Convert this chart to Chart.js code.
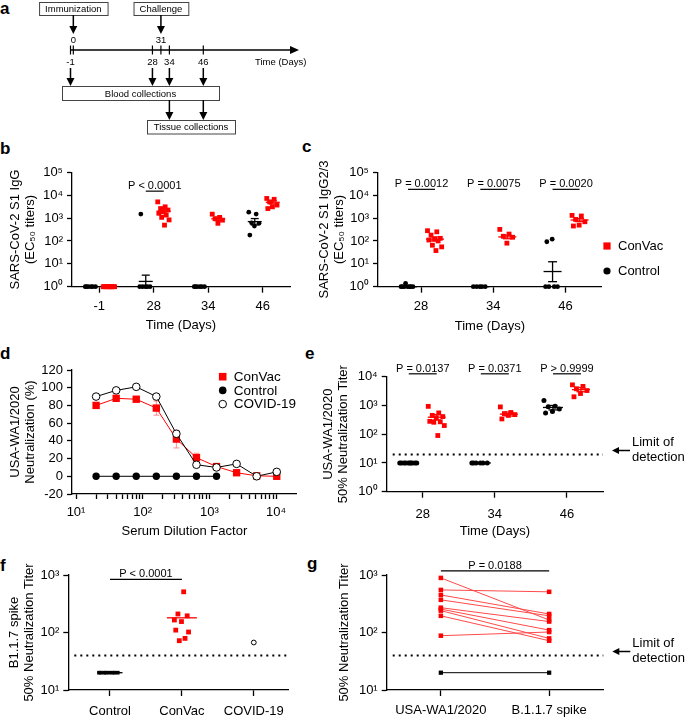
<!DOCTYPE html>
<html>
<head>
<meta charset="utf-8">
<title>ConVac figure</title>
<script src="https://cdn.jsdelivr.net/npm/chart.js@4.4.1/dist/chart.umd.min.js"></script>
<style>
  html, body { margin: 0; padding: 0; background: #fff; }
  body { position: relative; width: 685px; height: 719px; overflow: hidden; font-family: Arial, "Liberation Sans", sans-serif; }
  canvas { position: absolute; }
  .tag { position: absolute; font-weight: bold; font-size: 17px; line-height: 17px; }
</style>
</head>
<body>
<div class="tag" style="left:0px;top:0px">a</div>
<div class="tag" style="left:0px;top:140px">b</div>
<div class="tag" style="left:302px;top:138px">c</div>
<div class="tag" style="left:0px;top:345px">d</div>
<div class="tag" style="left:305px;top:345px">e</div>
<div class="tag" style="left:0px;top:557px">f</div>
<div class="tag" style="left:307px;top:555px">g</div>
<script>
// ---- data: a (study timeline) ----
const timelineDays = [-1, 0, 28, 31, 34, 46];
const dosingDays = [0, 31];
const dosingNames = ['Immunization', 'Challenge'];
const bloodDays = [-1, 28, 34, 46];
const tissueDays = [34, 46];

// ---- data: b (S1 IgG EC50) ----
const igDays = ['-1', '28', '34', '46'];
const igControl = [
  [1, 1, 1, 1, 1, 1],
  [1, 1, 1, 1, 1, 1500],
  [1, 1, 1, 1, 1, 1],
  [1800, 1500, 620, 590, 450, 180]
];
const igConVac = [
  [1, 1, 1, 1, 1, 1, 1, 1, 1, 1],
  [5100, 3100, 2600, 2240, 1860, 1620, 1350, 1070, 830, 490],
  [1480, 1070, 930, 810, 590],
  [7200, 6600, 5100, 3700, 3100, 2600]
];
const igControlMean = [1, 1.7, 1, 700];
const igControlLow = [1, 1, 1, 500];
const igControlHigh = [1, 3.2, 1, 950];
const igConVacMean = [1, 2000, 930, 4900];
const igConVacLow = [1, 1650, 780, 4100];
const igConVacHigh = [1, 2450, 1100, 5800];

// ---- data: c (S1 IgG2/3 EC50) ----
const g23Days = ['28', '34', '46'];
const g23Control = [
  [1, 1, 1, 1, 1, 1, 1, 1.4],
  [1, 1, 1, 1, 1],
  [1, 1, 1, 1, 120, 92]
];
const g23ConVac = [
  [280, 250, 180, 130, 120, 110, 100, 65, 55, 38],
  [320, 200, 160, 145, 80],
  [1310, 1230, 870, 690, 490, 450]
];
const g23ControlMean = [1, 1, 4.6];
const g23ControlLow = [1, 1, 1.66];
const g23ControlHigh = [1, 1, 12.3];
const g23ConVacMean = [120, 150, 820];
const g23ConVacLow = [100, 125, 700];
const g23ConVacHigh = [150, 180, 960];

// ---- data: d (neutralization curve) ----
const dilutions = [20, 40, 80, 160, 320, 640, 1280, 2560, 5120, 10240];
const neutConVac = [80, 88, 87, 77, 42, 21, 11, 4, 0.5, 0];
const neutConVacSem = [2, 1, 1, 8, 10, 5, 2, 1, 0.5, 0.5];
const neutControl = [0, 0, 0, 0, 0, 0, 0];
const neutCovid = [90, 97, 101, 90, 48, 13, 10, 14, 0, 5];

// ---- data: e (USA-WA1/2020 NT50) ----
const ntDays = ['28', '34', '46'];
const ntControl = [
  [10, 10, 10, 10, 10, 10, 10, 10, 10, 10],
  [10, 10, 10, 10, 10, 10],
  [1500, 930, 900, 760, 620, 550]
];
const ntConVac = [
  [930, 550, 450, 410, 370, 280, 270, 260, 200, 90],
  [890, 570, 520, 480, 450, 340],
  [5200, 4600, 3800, 3300, 2600, 2000]
];
const ntControlMean = [10, 10, 850];
const ntControlLow = [10, 10, 700];
const ntControlHigh = [10, 10, 1000];
const ntConVacMean = [390, 500, 3550];
const ntConVacLow = [310, 430, 3000];
const ntConVacHigh = [480, 590, 4200];

// ---- data: f, g (B.1.1.7 spike) ----
const variantGroups = ['Control', 'ConVac', 'COVID-19'];
const b117Control = [20, 20, 20, 20, 20, 20, 20, 20];
const b117Covid = [67];
const b117ControlMedian = 20;
const b117ConVacMedian = 180;
const pairLabels = ['USA-WA1/2020', 'B.1.1.7 spike'];
const pairWA1 = [890, 550, 450, 370, 270, 255, 240, 195, 88];
const pairB117 = [165, 510, 210, 195, 155, 110, 79, 72, 102];
const pairControl = [20, 20];
const detectionLimitE = 20;
const detectionLimitFG = 40;

// ---- layout ----
const RED = '#ff0000';
const FONT = 'Arial, "Liberation Sans", sans-serif';
const BOX = {
  a: { x: 0, y: 0, w: 320, h: 140 },
  b: { x: 0, y: 140, w: 300, h: 200 },
  c: { x: 300, y: 140, w: 385, h: 200 },
  d: { x: 0, y: 345, w: 320, h: 200 },
  e: { x: 300, y: 345, w: 385, h: 200 },
  f: { x: 0, y: 555, w: 320, h: 164 },
  g: { x: 300, y: 555, w: 385, h: 164 }
};
const AREA = {
  a: { l: 70.5, t: 0, r: 203.3, b: 140 },
  b: { l: 72, t: 172.3, r: 290, b: 286.7 },
  c: { l: 378, t: 172.3, r: 601.7, b: 286.7 },
  d: { l: 72, t: 370, r: 296.7, b: 494 },
  e: { l: 386.7, t: 376.7, r: 603, b: 491.7 },
  f: { l: 68.3, t: 575, r: 288.3, b: 690 },
  g: { l: 386.7, t: 575, r: 603.3, b: 690 }
};

Chart.defaults.font.family = FONT;
Chart.defaults.font.size = 13;
Chart.defaults.color = '#000';
Chart.defaults.animation = false;
Chart.defaults.responsive = false;
Chart.defaults.maintainAspectRatio = false;
Chart.defaults.events = [];
Chart.defaults.plugins.legend.display = false;
Chart.defaults.plugins.tooltip.enabled = false;

const SUP = { '0': '\u2070', '1': '\u00b9', '2': '\u00b2', '3': '\u00b3', '4': '\u2074', '5': '\u2075' };
const powLabel = v => '10' + String(Math.round(Math.log10(v))).split('').map(ch => SUP[ch]).join('');

function addCanvas(box) {
  const c = document.createElement('canvas');
  c.width = box.w;
  c.height = box.h;
  c.style.left = box.x + 'px';
  c.style.top = box.y + 'px';
  document.body.appendChild(c);
  return c;
}

function fitTo(key) {
  const box = BOX[key], area = AREA[key];
  return {
    padding: { left: 0, top: area.t - box.y, right: box.x + box.w - area.r, bottom: 0 },
    yW: area.l - box.x,
    xH: box.y + box.h - area.b
  };
}

const BORDER = { display: true, color: '#000', width: 1.3 };
const grid = len => ({ display: true, drawOnChartArea: false, drawTicks: true, tickLength: len, tickColor: '#000', tickWidth: 1.3, color: '#000' });
const titleCfg = (text, pad) => text
  ? { display: true, text, color: '#000', font: { size: 13, lineHeight: 1.15 }, padding: pad }
  : { display: false };

function yLog(min, max, fit, title, pad) {
  return {
    type: 'logarithmic', position: 'left', min, max, bounds: 'data',
    afterBuildTicks: s => { const t = []; for (let v = min; v <= max * 1.001; v *= 10) t.push({ value: v }); s.ticks = t; },
    afterFit: s => { s.width = fit.yW; },
    border: BORDER, grid: grid(5),
    ticks: { callback: v => powLabel(v), padding: 4, autoSkip: false, color: '#000', font: { size: 13 } },
    title: titleCfg(title, { top: pad, bottom: 0 })
  };
}

function xCat(cats, min, max, fit, title, labelPad, titlePad) {
  return {
    type: 'linear', position: 'bottom', min, max, bounds: 'data',
    afterBuildTicks: s => { s.ticks = cats.map((_, i) => ({ value: i })); },
    afterFit: s => { s.height = fit.xH; },
    border: BORDER, grid: grid(6),
    ticks: { callback: v => cats[Math.round(v)], padding: labelPad, color: '#000', font: { size: 13 }, autoSkip: false, maxRotation: 0 },
    title: titleCfg(title, { top: 0, bottom: titlePad })
  };
}

function seg(ctx, x1, y1, x2, y2) {
  ctx.beginPath(); ctx.moveTo(x1, y1); ctx.lineTo(x2, y2); ctx.stroke();
}

// ---- plugins ----
const statsPlugin = {
  id: 'stats',
  afterDatasetsDraw(chart) {
    const { ctx, scales: { x, y } } = chart;
    chart.data.datasets.forEach(ds => {
      const s = ds.stats;
      if (!s) return;
      ctx.save();
      ctx.strokeStyle = ds.borderColor;
      ctx.lineWidth = 1.3;
      s.mean.forEach((m, i) => {
        if (m == null) return;
        const cx = x.getPixelForValue(i + s.shift);
        const ym = y.getPixelForValue(m);
        seg(ctx, cx - s.half, ym, cx + s.half, ym);
        if (s.low && s.high && s.high[i] > s.low[i]) {
          const yl = y.getPixelForValue(s.low[i]);
          const yh = y.getPixelForValue(s.high[i]);
          seg(ctx, cx, yl, cx, yh);
          seg(ctx, cx - s.cap, yl, cx + s.cap, yl);
          seg(ctx, cx - s.cap, yh, cx + s.cap, yh);
        }
      });
      ctx.restore();
    });
  }
};

const errorPlugin = {
  id: 'errbars',
  beforeDatasetsDraw(chart) {
    const { ctx, scales: { x, y } } = chart;
    chart.data.datasets.forEach(ds => {
      if (!ds.errors) return;
      ctx.save();
      ctx.strokeStyle = ds.errorColor;
      ctx.lineWidth = 1;
      ds.data.forEach((p, i) => {
        const e = ds.errors[i];
        if (!e) return;
        const px = x.getPixelForValue(p.x);
        const y1 = y.getPixelForValue(p.y - e), y2 = y.getPixelForValue(p.y + e);
        seg(ctx, px, y1, px, y2);
        seg(ctx, px - 3, y1, px + 3, y1);
        seg(ctx, px - 3, y2, px + 3, y2);
      });
      ctx.restore();
    });
  }
};

const pvalPlugin = {
  id: 'pvals',
  afterDraw(chart, args, opts) {
    if (!opts.items) return;
    const { ctx, scales: { x, y } } = chart;
    ctx.save();
    ctx.strokeStyle = '#000';
    ctx.fillStyle = '#000';
    ctx.lineWidth = 1.2;
    ctx.font = '11px ' + FONT;
    ctx.textAlign = 'center';
    ctx.textBaseline = 'alphabetic';
    opts.items.forEach(it => {
      const x1 = x.getPixelForValue(it.x1), x2 = x.getPixelForValue(it.x2);
      const py = y.getPixelForValue(it.y);
      seg(ctx, x1, py, x2, py);
      ctx.fillText(it.text, (x1 + x2) / 2, py - 2);
    });
    ctx.restore();
  }
};

const lodPlugin = {
  id: 'lod',
  afterDatasetsDraw(chart, args, opts) {
    if (opts.value == null) return;
    const { ctx, chartArea: a, scales: { y } } = chart;
    const py = Math.round(y.getPixelForValue(opts.value)) + 0.5;
    ctx.save();
    ctx.strokeStyle = '#000';
    ctx.fillStyle = '#000';
    ctx.lineWidth = 2;
    ctx.setLineDash([2, 4]);
    seg(ctx, a.left + 6, py, a.right, py);
    ctx.setLineDash([]);
    if (opts.label) {
      const ay = py - 4, tip = a.right + 9, tail = a.right + 27;
      ctx.lineWidth = 1.5;
      seg(ctx, tip + 5, ay, tail, ay);
      ctx.beginPath();
      ctx.moveTo(tip, ay); ctx.lineTo(tip + 7, ay - 3.5); ctx.lineTo(tip + 7, ay + 3.5);
      ctx.closePath(); ctx.fill();
      ctx.font = '13px ' + FONT;
      ctx.textAlign = 'left';
      ctx.textBaseline = 'middle';
      ctx.fillText(opts.label[0], tail + 2, ay - 8);
      ctx.fillText(opts.label[1], tail + 2, ay + 7);
    }
    ctx.restore();
  }
};

const keyPlugin = {
  id: 'key',
  afterDraw(chart, args, opts) {
    if (!opts.items) return;
    const ctx = chart.ctx;
    ctx.save();
    ctx.font = opts.size + 'px ' + FONT;
    ctx.textBaseline = 'middle';
    ctx.textAlign = 'left';
    opts.items.forEach((di, k) => {
      const ds = chart.data.datasets[di];
      const cy = opts.y + k * opts.dy;
      const r = opts.r;
      ctx.fillStyle = ds.pointBackgroundColor;
      ctx.strokeStyle = ds.pointBorderColor;
      ctx.lineWidth = 1;
      if (ds.pointStyle === 'rect') {
        ctx.fillRect(opts.x - r, cy - r, 2 * r, 2 * r);
      } else {
        ctx.beginPath(); ctx.arc(opts.x, cy, r, 0, Math.PI * 2); ctx.fill();
        if (ds.pointBorderWidth) ctx.stroke();
      }
      ctx.fillStyle = '#000';
      ctx.fillText(ds.label, opts.x + opts.gap, cy + 0.5);
    });
    ctx.restore();
  }
};

const schemePlugin = {
  id: 'scheme',
  afterDraw(chart, args, opts) {
    if (!opts.on) return;
    const { ctx, scales: { x } } = chart;
    const X = d => x.getPixelForValue(d);
    const axisY = 50;
    const arrow = (px, y1, y2) => {
      ctx.lineWidth = 1.5;
      seg(ctx, px, y1, px, y2 - 6);
      ctx.beginPath(); ctx.moveTo(px - 4, y2 - 8); ctx.lineTo(px + 4, y2 - 8); ctx.lineTo(px, y2);
      ctx.closePath(); ctx.fill();
    };
    const box = (bx, by, bw, bh, text) => {
      ctx.lineWidth = 1;
      ctx.strokeStyle = '#444';
      ctx.strokeRect(bx + 0.5, by + 0.5, bw, bh);
      ctx.strokeStyle = '#000';
      ctx.fillText(text, bx + bw / 2, by + bh / 2 + 1);
    };
    ctx.save();
    ctx.strokeStyle = '#000';
    ctx.fillStyle = '#000';
    ctx.font = '9.5px ' + FONT;
    ctx.textAlign = 'center';
    ctx.textBaseline = 'middle';
    ctx.lineWidth = 1.4;
    seg(ctx, X(timelineDays[0]), axisY, 291, axisY);
    ctx.beginPath(); ctx.moveTo(299, axisY); ctx.lineTo(290, axisY - 4); ctx.lineTo(290, axisY + 4);
    ctx.closePath(); ctx.fill();
    timelineDays.forEach(d => {
      ctx.lineWidth = 1.2;
      seg(ctx, X(d), axisY - 4.5, X(d), axisY + 4.5);
      ctx.fillText(String(d), X(d), dosingDays.includes(d) ? 40.5 : 62);
    });
    ctx.textAlign = 'left';
    ctx.fillText('Time (Days)', 255, 62);
    ctx.textAlign = 'center';
    dosingDays.forEach((d, i) => {
      const w = ctx.measureText(dosingNames[i]).width + 12;
      box(X(d) - w / 2, 2, w, 13, dosingNames[i]);
      arrow(X(d), 15, 34);
    });
    bloodDays.forEach(d => arrow(X(d), 68, 86));
    box(62, 86, 157, 14, 'Blood collections');
    tissueDays.forEach(d => arrow(X(d), 100, 120));
    box(147, 120, 88, 13.5, 'Tissue collections');
    ctx.restore();
  }
};

Chart.register(statsPlugin, errorPlugin, pvalPlugin, lodPlugin, keyPlugin, schemePlugin);

const spreadAt = (j, n) => (n > 1 ? ((j * 0.6180339) % 1) - 0.5 : 0);

function dotPanel(key, cfg) {
  const fit = fitTo(key);
  const area = AREA[key];
  const unitPx = (area.r - area.l) / (cfg.xMax - cfg.xMin);
  const datasets = cfg.groups.map(g => ({
    label: g.label,
    data: g.values.flatMap((vals, ci) => vals.map((v, j) => ({
      x: ci + (g.offset + spreadAt(j, vals.length) * g.spread) / unitPx,
      y: v
    }))),
    showLine: false,
    clip: false,
    pointStyle: g.shape,
    pointRadius: g.radius,
    pointBackgroundColor: g.fill || g.color,
    pointBorderColor: g.color,
    pointBorderWidth: g.fill ? 1 : 0,
    borderColor: g.color,
    backgroundColor: g.color,
    stats: g.mean ? { mean: g.mean, low: g.low, high: g.high, shift: g.offset / unitPx, half: g.half, cap: g.cap } : null
  }));
  const at = ([ci, gi]) => ci + cfg.groups[gi].offset / unitPx;
  const items = (cfg.pvals || []).map(p => ({ text: p.text, y: p.y, x1: at(p.from), x2: at(p.to) }));
  return new Chart(addCanvas(BOX[key]), {
    type: 'scatter',
    data: { datasets },
    options: {
      layout: { padding: fit.padding },
      scales: {
        x: xCat(cfg.cats, cfg.xMin, cfg.xMax, fit, cfg.xTitle, cfg.xLabelPad, cfg.xTitlePad),
        y: yLog(cfg.yMin, cfg.yMax, fit, cfg.yTitle, cfg.yTitlePad)
      },
      plugins: { pvals: { items }, lod: cfg.lod || {}, key: cfg.key || {} }
    }
  });
}

// ---- a ----
new Chart(addCanvas(BOX.a), {
  type: 'scatter',
  data: { datasets: [] },
  options: {
    layout: { padding: { left: AREA.a.l, right: BOX.a.w - AREA.a.r, top: 0, bottom: 0 } },
    scales: {
      x: { type: 'linear', min: timelineDays[0], max: timelineDays[timelineDays.length - 1], display: false },
      y: { display: false }
    },
    plugins: { scheme: { on: true } }
  }
});

// ---- b ----
dotPanel('b', {
  cats: igDays, xMin: -0.5, xMax: 3.5, yMin: 1, yMax: 1e5,
  yTitle: ['SARS-CoV-2 S1 IgG', '(EC\u2085\u2080 titers)'], yTitlePad: 7.5,
  xTitle: 'Time (Days)', xTitlePad: 7.5, xLabelPad: 6,
  groups: [
    { label: 'Control', values: igControl, color: '#000', shape: 'circle', radius: 2.4, offset: -8, spread: 12,
      mean: igControlMean, low: igControlLow, high: igControlHigh, half: 7, cap: 4 },
    { label: 'ConVac', values: igConVac, color: RED, shape: 'rect', radius: 3.4, offset: 10, spread: 12,
      mean: igConVacMean, low: igConVacLow, high: igConVacHigh, half: 7, cap: 4 }
  ],
  pvals: [{ text: 'P < 0.0001', y: 1.5e4, from: [1, 0], to: [1, 1] }]
});

// ---- c ----
dotPanel('c', {
  cats: g23Days, xMin: -0.595, xMax: 2.5, yMin: 1, yMax: 1e5,
  yTitle: ['SARS-CoV-2 S1 IgG2/3', '(EC\u2085\u2080 titers)'], yTitlePad: 16.5,
  xTitle: 'Time (Days)', xTitlePad: 6.5, xLabelPad: 6,
  groups: [
    { label: 'Control', values: g23Control, color: '#000', shape: 'circle', radius: 2.4, offset: -13, spread: 14,
      mean: g23ControlMean, low: g23ControlLow, high: g23ControlHigh, half: 9, cap: 4.5 },
    { label: 'ConVac', values: g23ConVac, color: RED, shape: 'rect', radius: 3.4, offset: 14, spread: 15,
      mean: g23ConVacMean, low: g23ConVacLow, high: g23ConVacHigh, half: 9, cap: 4.5 }
  ],
  pvals: [
    { text: 'P = 0.0012', y: 1.8e4, from: [0, 0], to: [0, 1] },
    { text: 'P = 0.0075', y: 1.8e4, from: [1, 0], to: [1, 1] },
    { text: 'P = 0.0020', y: 1.8e4, from: [2, 0], to: [2, 1] }
  ],
  key: { x: 307, y: 106, dy: 25, r: 3.6, gap: 11, size: 13, items: [1, 0] }
});

// ---- d ----
{
  const fit = fitTo('d');
  const pts = vals => vals.map((v, i) => ({ x: dilutions[i], y: v }));
  new Chart(addCanvas(BOX.d), {
    type: 'line',
    data: {
      datasets: [
        { label: 'Control', data: pts(neutControl), borderColor: '#000', borderWidth: 1, clip: false,
          pointStyle: 'circle', pointRadius: 3.7, pointBackgroundColor: '#000', pointBorderColor: '#000', pointBorderWidth: 0 },
        { label: 'COVID-19', data: pts(neutCovid), borderColor: '#000', borderWidth: 1, clip: false,
          pointStyle: 'circle', pointRadius: 3.8, pointBackgroundColor: '#fff', pointBorderColor: '#000', pointBorderWidth: 1 },
        { label: 'ConVac', data: pts(neutConVac), borderColor: RED, borderWidth: 1, clip: false,
          pointStyle: 'rect', pointRadius: 5.2, pointBackgroundColor: RED, pointBorderColor: RED, pointBorderWidth: 0,
          errors: neutConVacSem, errorColor: '#ff8c8c' }
      ]
    },
    options: {
      layout: { padding: fit.padding },
      scales: {
        x: {
          type: 'logarithmic', position: 'bottom', min: 8.7, max: 20400, bounds: 'data',
          afterBuildTicks: s => {
            const t = [];
            for (let p = 10; p <= 1000; p *= 10) for (let k = 1; k <= 9; k++) t.push({ value: k * p });
            t.push({ value: 10000 });
            s.ticks = t;
          },
          afterFit: s => { s.height = fit.xH; },
          border: BORDER, grid: grid(5),
          ticks: {
            callback: v => (Math.abs(Math.log10(v) - Math.round(Math.log10(v))) < 1e-6 ? powLabel(v) : ''),
            padding: 6, autoSkip: false, maxRotation: 0, color: '#000', font: { size: 13 }
          },
          title: titleCfg('Serum Dilution Factor', { top: 0, bottom: 6 })
        },
        y: {
          type: 'linear', position: 'left', min: -20, max: 120, bounds: 'data',
          afterFit: s => { s.width = fit.yW; },
          border: BORDER, grid: grid(5),
          ticks: { stepSize: 20, padding: 4, autoSkip: false, color: '#000', font: { size: 13 } },
          title: titleCfg(['USA-WA1/2020', 'Neutralization (%)'], { top: 7.5, bottom: 0 })
        }
      },
      plugins: { key: { x: 222.7, y: 31.7, dy: 13.7, r: 3.8, gap: 11, size: 13.5, items: [2, 0, 1] } }
    }
  });
}

// ---- e ----
dotPanel('e', {
  cats: ntDays, xMin: -0.5, xMax: 2.5, yMin: 1, yMax: 1e4,
  yTitle: ['USA-WA1/2020', '50% Neutralization Titer'], yTitlePad: 20.5,
  xTitle: 'Time (Days)', xTitlePad: 6.5, xLabelPad: 9,
  groups: [
    { label: 'Control', values: ntControl, color: '#000', shape: 'circle', radius: 2.5, offset: -14, spread: 18,
      mean: ntControlMean, low: ntControlLow, high: ntControlHigh, half: 10, cap: 4.5 },
    { label: 'ConVac', values: ntConVac, color: RED, shape: 'rect', radius: 3.4, offset: 14, spread: 17,
      mean: ntConVacMean, low: ntConVacLow, high: ntConVacHigh, half: 9, cap: 4.5 }
  ],
  pvals: [
    { text: 'P = 0.0137', y: 1.26e4, from: [0, 0], to: [0, 1] },
    { text: 'P = 0.0371', y: 1.26e4, from: [1, 0], to: [1, 1] },
    { text: 'P > 0.9999', y: 1.26e4, from: [2, 0], to: [2, 1] }
  ],
  lod: { value: detectionLimitE, label: ['Limit of', 'detection'] }
});

// ---- f ----
dotPanel('f', {
  cats: variantGroups, xMin: -0.58, xMax: 2.48, yMin: 10, yMax: 1000,
  yTitle: ['B1.1.7 spike', '50% Neutralization Titer'], yTitlePad: 7,
  xTitle: null, xLabelPad: 8,
  groups: [
    { label: 'Control', values: [b117Control, [], []], color: '#000', shape: 'rect', radius: 2.6, offset: 0, spread: 22,
      mean: [b117ControlMedian, null, null], half: 12.5, cap: 0 },
    { label: 'ConVac', values: [[], pairB117, []], color: RED, shape: 'rect', radius: 3.4, offset: 0, spread: 15,
      mean: [null, b117ConVacMedian, null], half: 15, cap: 0 },
    { label: 'COVID-19', values: [[], [], b117Covid], color: '#000', fill: '#fff', shape: 'circle', radius: 2.4, offset: 0, spread: 0 }
  ],
  pvals: [{ text: 'P < 0.0001', y: 840, from: [0, 0], to: [1, 1] }],
  lod: { value: detectionLimitFG }
});

// ---- g ----
{
  const fit = fitTo('g');
  const pairSets = pairWA1.map((v, i) => ({
    label: 'ConVac', data: [{ x: 0, y: v }, { x: 1, y: pairB117[i] }],
    borderColor: '#ff4a4a', borderWidth: 1, clip: false,
    pointStyle: 'rect', pointRadius: 3.2, pointBackgroundColor: RED, pointBorderWidth: 0
  }));
  pairSets.push({
    label: 'Control', data: pairControl.map((v, i) => ({ x: i, y: v })),
    borderColor: '#000', borderWidth: 1, clip: false,
    pointStyle: 'rect', pointRadius: 3, pointBackgroundColor: '#000', pointBorderWidth: 0
  });
  new Chart(addCanvas(BOX.g), {
    type: 'line',
    data: { datasets: pairSets },
    options: {
      layout: { padding: fit.padding },
      scales: {
        x: xCat(pairLabels, -0.5, 1.5, fit, null, 7, 0),
        y: yLog(10, 1000, fit, '50% Neutralization Titer', 36.5)
      },
      plugins: {
        pvals: { items: [{ text: 'P = 0.0188', y: 1180, x1: 0, x2: 1 }] },
        lod: { value: detectionLimitFG, label: ['Limit of', 'detection'] }
      }
    }
  });
}
</script>
</body>
</html>
